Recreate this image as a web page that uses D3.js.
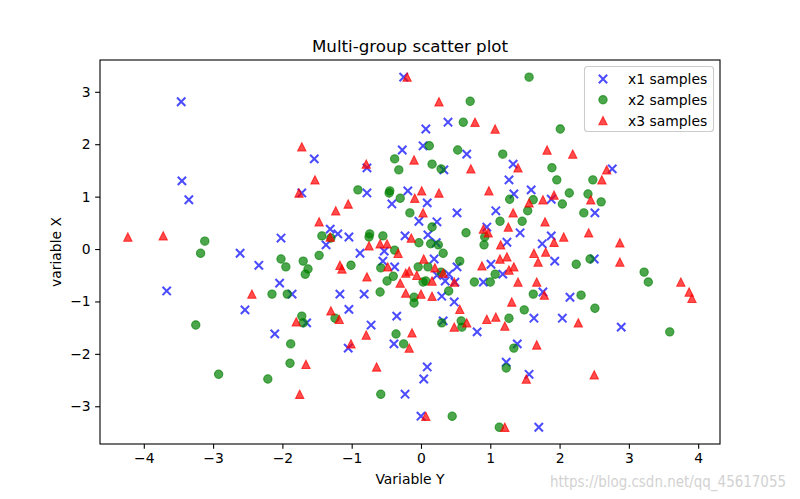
<!DOCTYPE html>
<html>
<head>
<meta charset="utf-8">
<script src="https://cdn.jsdelivr.net/npm/d3@7"></script>
<style>
  html, body { margin: 0; padding: 0; background: #fff; }
  svg { display: block; }
  text { font-family: "DejaVu Sans", sans-serif; fill: #000; }
</style>
</head>
<body>
<div id="chart"></div>
<script>
const titleText = "Multi-group scatter plot";
const xLabel = "Variable Y";
const yLabel = "variable X";
const seriesNames = ["x1 samples", "x2 samples", "x3 samples"];
const xTicks = [-4, -3, -2, -1, 0, 1, 2, 3, 4];
const yTicks = [-3, -2, -1, 0, 1, 2, 3];

const x1Samples = [[-3.46,2.81],[-3.45,1.30],[-3.35,0.94],[-2.61,-0.08],[-2.34,-0.31],[-3.67,-0.80],[-2.54,-1.16],[-0.25,3.28],[-1.54,1.72],[-0.78,1.55],[-0.27,1.89],[-1.72,1.07],[-0.78,1.07],[-0.19,1.11],[-0.42,0.86],[-1.31,0.38],[-1.20,0.29],[-1.04,0.23],[-2.02,0.21],[-1.37,0.08],[-0.23,0.25],[-0.53,-0.04],[-0.88,-0.08],[-0.55,-0.23],[-0.38,-0.34],[-2.04,-0.65],[-1.86,-0.86],[-1.17,-0.86],[-0.82,-0.86],[-1.04,-1.15],[-1.65,-1.41],[-0.35,-1.28],[-0.72,-1.45],[-2.11,-1.62],[-1.05,-1.89],[-0.39,-1.81],[-0.23,-2.77],[0.39,2.42],[0.07,2.29],[0.03,1.97],[0.66,1.81],[0.33,1.51],[1.33,1.62],[1.27,1.32],[0.09,0.88],[1.34,1.05],[1.59,1.13],[1.88,0.95],[-0.03,0.53],[0.23,0.52],[0.52,0.69],[1.08,0.73],[0.10,0.27],[0.22,0.12],[0.95,0.42],[1.43,0.31],[1.24,0.13],[1.88,0.25],[1.75,0.10],[2.76,1.53],[2.51,0.69],[0.19,-0.19],[0.52,-0.34],[0.23,-0.50],[0.40,-0.48],[0.35,-0.61],[0.49,-0.63],[1.01,-0.29],[1.18,-0.48],[0.90,-0.63],[1.93,-0.23],[0.30,-0.90],[0.48,-1.01],[1.76,-0.82],[2.15,-0.92],[1.63,-1.32],[2.04,-1.32],[0.32,-1.37],[0.81,-1.58],[1.39,-1.81],[0.09,-2.25],[0.04,-2.48],[1.23,-2.16],[1.56,-2.39],[0.00,-3.19],[1.70,-3.40],[2.50,-0.19],[2.89,-1.49]];

const x2Samples = [[-3.12,0.15],[-3.18,-0.08],[-3.25,-1.45],[-2.92,-2.39],[-0.38,1.72],[-0.32,1.51],[-0.91,1.13],[-0.45,1.11],[-0.46,1.07],[-0.30,0.97],[-0.16,0.69],[-1.43,0.25],[-1.30,0.21],[-0.74,0.29],[-0.75,0.23],[-0.55,0.25],[-0.38,-0.02],[-1.47,-0.12],[-2.02,-0.19],[-1.95,-0.34],[-1.70,-0.23],[-1.63,-0.38],[-1.67,-0.48],[-1.01,-0.31],[-0.58,-0.36],[-0.49,-0.61],[-0.40,-0.52],[-0.10,-0.92],[-0.10,-1.03],[-2.15,-0.86],[-1.93,-0.86],[-0.59,-0.82],[-1.24,-1.32],[-1.72,-1.28],[-1.70,-1.41],[-0.36,-1.62],[-1.88,-1.81],[-0.25,-1.81],[-1.89,-2.18],[-2.21,-2.48],[-0.58,-2.77],[1.56,3.28],[0.71,2.82],[0.61,2.42],[2.01,2.29],[0.12,1.97],[0.53,1.89],[1.18,1.81],[0.16,1.62],[0.29,1.53],[1.89,1.55],[1.96,1.32],[1.28,0.95],[1.62,0.94],[1.54,0.73],[2.04,0.86],[2.14,1.07],[1.14,0.53],[1.46,0.53],[0.16,0.42],[-0.03,0.12],[0.14,0.10],[0.25,0.08],[0.65,0.31],[0.92,0.23],[0.91,0.08],[0.32,-0.08],[2.48,1.32],[2.41,1.05],[2.60,0.90],[2.35,0.69],[0.56,-0.23],[-0.04,-0.34],[0.10,-0.34],[0.29,-0.44],[0.03,-0.63],[0.07,-0.61],[1.07,-0.48],[0.77,-0.63],[1.00,-0.63],[0.40,-0.80],[1.62,-0.86],[1.49,-1.16],[1.27,-1.32],[0.30,-1.41],[0.58,-1.37],[0.59,-1.49],[1.34,-1.89],[1.23,-2.27],[0.45,-3.19],[1.13,-3.40],[2.24,-0.29],[2.44,-0.19],[3.22,-0.44],[3.28,-0.63],[2.31,-0.88],[2.51,-1.13],[3.59,-1.58]];

const x3Samples = [[-4.23,0.23],[-3.72,0.25],[-2.44,-0.86],[-0.20,3.28],[-1.72,1.95],[-0.79,1.62],[-1.53,1.32],[-1.76,1.07],[-0.10,1.70],[-1.05,0.86],[-1.23,0.73],[-1.47,0.52],[-1.31,0.23],[-0.14,0.21],[-0.75,0.06],[-0.59,0.10],[-0.49,0.10],[-0.33,-0.08],[-1.17,-0.31],[-1.14,-0.38],[-0.78,-0.53],[-0.48,-0.34],[-0.30,-0.65],[-0.22,-0.46],[-0.17,-0.42],[-0.22,-0.84],[-1.30,-1.18],[-1.18,-1.34],[-1.80,-1.39],[-0.79,-1.64],[-0.13,-1.60],[-1.01,-1.81],[-0.17,-1.89],[-1.66,-2.20],[-0.64,-2.25],[-1.75,-2.77],[0.26,2.81],[0.78,2.42],[1.07,2.29],[1.82,1.89],[2.19,1.81],[0.72,1.53],[1.40,1.55],[0.01,1.11],[0.26,1.07],[-0.09,0.97],[0.98,1.11],[1.56,0.88],[1.76,0.94],[1.92,1.03],[2.68,1.51],[2.61,1.32],[2.45,0.94],[2.42,0.31],[2.87,0.12],[0.03,0.69],[1.33,0.69],[1.79,0.52],[0.90,0.38],[0.97,0.31],[1.26,0.42],[1.15,0.08],[1.92,0.13],[2.06,0.23],[1.63,-0.08],[1.80,-0.06],[1.69,-0.25],[0.04,-0.19],[-0.06,-0.50],[0.20,-0.36],[0.32,-0.46],[0.16,-0.61],[0.48,-0.63],[0.88,-0.32],[1.14,-0.19],[1.24,-0.15],[1.27,-0.40],[1.34,-0.34],[1.40,-0.63],[1.67,-0.63],[0.00,-0.86],[0.16,-0.90],[1.78,-0.88],[1.31,-1.01],[0.56,-1.15],[0.95,-1.34],[1.08,-1.30],[1.21,-1.47],[0.66,-1.41],[0.48,-1.49],[1.67,-1.83],[1.52,-2.48],[0.07,-3.19],[1.21,-3.40],[2.87,-0.25],[3.75,-0.63],[3.87,-0.82],[3.91,-0.94],[2.27,-1.41],[2.50,-2.40]];

const seriesColors = ["#0000ff", "#008000", "#ff0000"];
const seriesMarkers = ["x", "circle", "triangle"];
const seriesData = [x1Samples, x2Samples, x3Samples];

const W = 800, H = 499;
const M = { left: 100, right: 720, top: 60, bottom: 444 };
const ALPHA = 0.7;
const MS = 8.33; // marker size px
const LW = 2.08; // marker line width px

const svg = d3.select("#chart").append("svg").attr("width", W).attr("height", H);
svg.append("rect").attr("width", W).attr("height", H).attr("fill", "#fff");

const x = d3.scaleLinear().domain([-4.632, 4.315]).range([M.left, M.right]);
const y = d3.scaleLinear().domain([-3.72, 3.607]).range([M.bottom, M.top]);

const symX = { draw(ctx, s) { const r = s / 2; ctx.moveTo(-r, -r); ctx.lineTo(r, r); ctx.moveTo(-r, r); ctx.lineTo(r, -r); } };
const symCircle = { draw(ctx, s) { const r = s / 2; ctx.moveTo(r, 0); ctx.arc(0, 0, r, 0, 2 * Math.PI); } };
const symTri = { draw(ctx, s) { const r = s / 2; ctx.moveTo(0, -r); ctx.lineTo(-r, r); ctx.lineTo(r, r); ctx.closePath(); } };
const symbolOf = { x: symX, circle: symCircle, triangle: symTri };

function drawMarker(sel, marker, color) {
  const p = d3.symbol().type(symbolOf[marker]).size(MS);
  sel.attr("d", p);
  if (marker === "x") {
    sel.attr("fill", "none").attr("stroke", color).attr("stroke-opacity", ALPHA).attr("stroke-width", LW);
  } else {
    sel.attr("fill", color).attr("fill-opacity", ALPHA)
       .attr("stroke", color).attr("stroke-opacity", ALPHA).attr("stroke-width", LW * 0.5);
  }
}

const plot = svg.append("g");
seriesData.forEach((data, i) => {
  plot.append("g").selectAll("path").data(data).join("path")
    .attr("transform", d => `translate(${x(d[0])},${y(d[1])})`)
    .call(drawMarker, seriesMarkers[i], seriesColors[i]);
});

// axes
const xAxis = d3.axisBottom(x).tickValues(xTicks).tickSize(4.86).tickPadding(4.5).tickFormat(d3.format("d"));
const yAxis = d3.axisLeft(y).tickValues(yTicks).tickSize(4.86).tickPadding(4.5).tickFormat(d3.format("d"));
const gx = svg.append("g").attr("transform", `translate(0,${M.bottom})`).call(xAxis);
const gy = svg.append("g").attr("transform", `translate(${M.left},0)`).call(yAxis);
[gx, gy].forEach(g => {
  g.select(".domain").remove();
  g.selectAll(".tick line").attr("stroke", "#000").attr("stroke-width", 1.1);
  g.selectAll(".tick text").attr("font-family", "DejaVu Sans").attr("font-size", 13.9).attr("fill", "#000");
});

// frame
svg.append("rect").attr("x", M.left).attr("y", M.top)
  .attr("width", M.right - M.left).attr("height", M.bottom - M.top)
  .attr("fill", "none").attr("stroke", "#000").attr("stroke-width", 1.1);

// title & labels
svg.append("text").attr("x", (M.left + M.right) / 2).attr("y", 52).attr("text-anchor", "middle")
  .attr("font-size", 16.7).text(titleText);
svg.append("text").attr("x", (M.left + M.right) / 2).attr("y", 484).attr("text-anchor", "middle")
  .attr("font-size", 13.9).text(xLabel);
svg.append("text").attr("transform", `translate(61,${(M.top + M.bottom) / 2}) rotate(-90)`)
  .attr("text-anchor", "middle").attr("font-size", 13.9).text(yLabel);

// legend
const lg = svg.append("g");
lg.append("rect").attr("x", 584.5).attr("y", 66.5).attr("width", 129).attr("height", 65)
  .attr("rx", 3).attr("fill", "#fff").attr("fill-opacity", 0.8).attr("stroke", "#cccccc").attr("stroke-width", 1.1);
seriesNames.forEach((name, i) => {
  const yy = 79 + i * 20.8;
  lg.append("path").attr("transform", `translate(603,${yy})`).call(drawMarker, seriesMarkers[i], seriesColors[i]);
  lg.append("text").attr("x", 628).attr("y", yy + 5).attr("font-size", 13.9).text(name);
});

// watermark
svg.append("text").attr("x", 550).attr("y", 487)
  .attr("font-family", "'Liberation Sans Narrow', 'DejaVu Sans Condensed', sans-serif")
  .attr("font-size", 16).attr("textLength", 236).attr("lengthAdjust", "spacingAndGlyphs")
  .style("fill", "#d2d2d2").text("https://blog.csdn.net/qq_45617055");
</script>
</body>
</html>
